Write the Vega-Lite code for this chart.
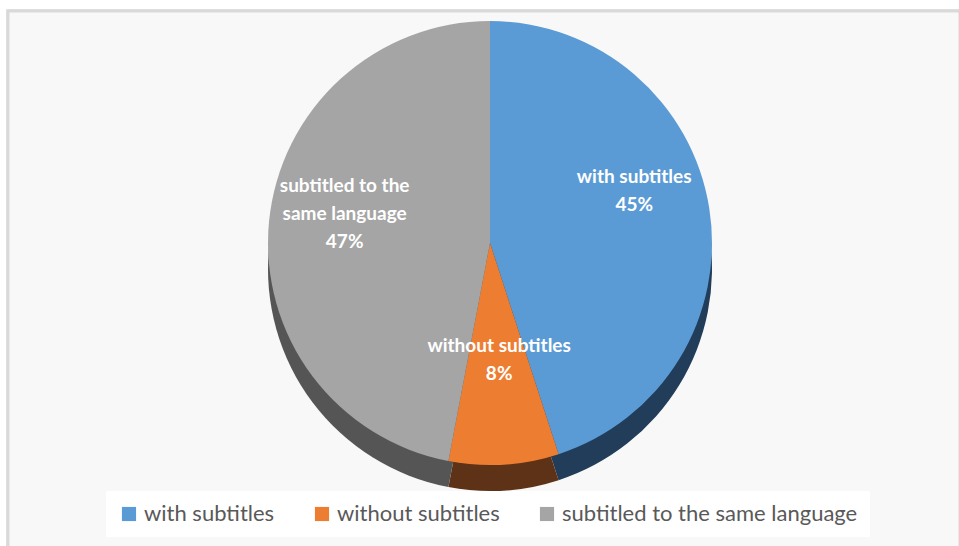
{
  "$schema": "https://vega.github.io/schema/vega-lite/v6.json",
  "width": 952,
  "height": 540,
  "autosize": {"type": "none"},
  "padding": {"left": 8, "top": 11, "right": 0, "bottom": 0},
  "background": "#ffffff",
  "config": {
    "view": {"stroke": null},
    "font": "Lato"
  },
  "data": {
    "values": [
      {"rank": 1, "category": "with subtitles", "share": 45, "label": ["with subtitles", "45%"]},
      {"rank": 2, "category": "without subtitles", "share": 8, "label": ["without subtitles", "8%"]},
      {"rank": 3, "category": "subtitled to the same language", "share": 47, "label": ["subtitled to the", "same language", "47%"]}
    ]
  },
  "layer": [
    {
      "mark": {"type": "rect", "fill": "#f8f8f8", "stroke": "#d9d9d9", "strokeWidth": 3},
      "encoding": {}
    },
    {
      "mark": {"type": "arc", "outerRadius": 222, "xOffset": 6, "yOffset": -12},
      "encoding": {
        "theta": {"field": "share", "type": "quantitative", "stack": true},
        "order": {"field": "rank", "type": "quantitative"},
        "color": {
          "field": "category",
          "type": "nominal",
          "sort": ["with subtitles", "without subtitles", "subtitled to the same language"],
          "scale": {
            "domain": ["with subtitles", "without subtitles", "subtitled to the same language"],
            "range": ["#223d5a", "#5e3216", "#555555"]
          },
          "legend": null
        }
      }
    },
    {
      "mark": {"type": "arc", "outerRadius": 222, "xOffset": 6, "yOffset": -38},
      "encoding": {
        "theta": {"field": "share", "type": "quantitative", "stack": true},
        "order": {"field": "rank", "type": "quantitative"},
        "color": {
          "field": "category",
          "type": "nominal",
          "sort": ["with subtitles", "without subtitles", "subtitled to the same language"],
          "scale": {
            "domain": ["with subtitles", "without subtitles", "subtitled to the same language"],
            "range": ["#5b9bd5", "#ed7d31", "#a5a5a5"]
          },
          "legend": {
            "title": null,
            "orient": "none",
            "direction": "horizontal",
            "legendX": 98,
            "legendY": 480,
            "fillColor": "#ffffff",
            "padding": 12,
            "columnPadding": 36,
            "symbolType": "square",
            "symbolSize": 200,
            "symbolStrokeWidth": 0,
            "labelFontSize": 22,
            "labelColor": "#595959",
            "labelFont": "Lato",
            "labelOffset": 4,
            "labelLimit": 400
          }
        }
      }
    },
    {
      "mark": {"type": "text", "radius": 146, "xOffset": 6, "yOffset": -81, "fill": "#ffffff", "fontWeight": "bold", "fontSize": 19, "font": "Lato", "lineHeight": 28},
      "encoding": {
        "theta": {"field": "share", "type": "quantitative", "stack": true},
        "order": {"field": "rank", "type": "quantitative"},
        "text": {"field": "label"}
      }
    }
  ],
  "resolve": {"scale": {"color": "independent"}}
}
